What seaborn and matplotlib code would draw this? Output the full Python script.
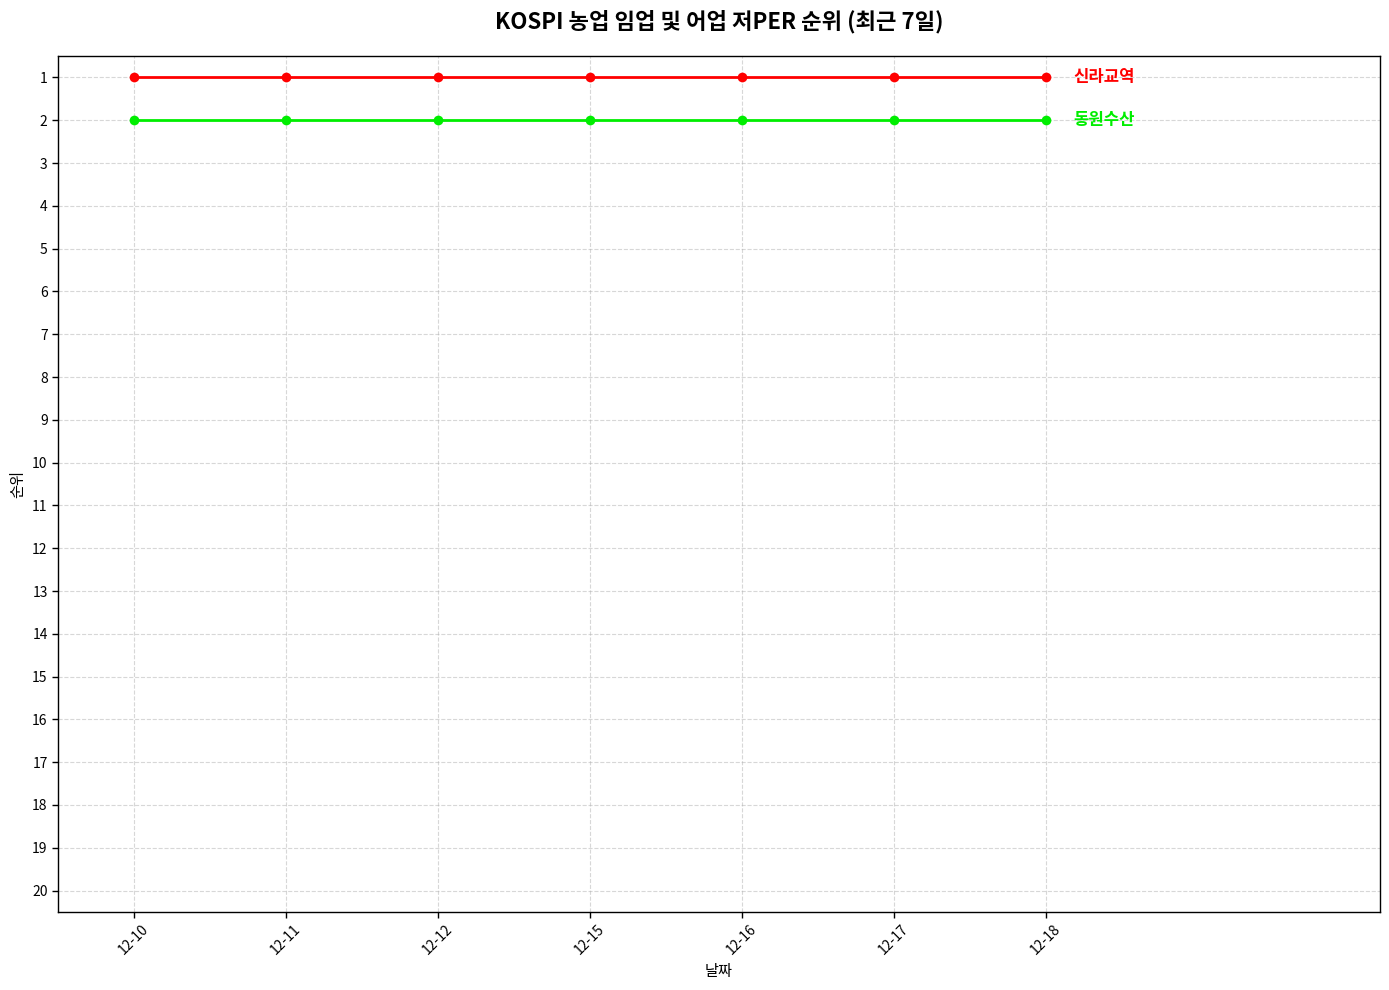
import matplotlib
matplotlib.use("Agg")
import matplotlib.pyplot as plt
import seaborn as sns
import pandas as pd

dates = ["12-10", "12-11", "12-12", "12-15", "12-16", "12-17", "12-18"]
stocks = ["신라교역", "동원수산"]
rank_silla = [1, 1, 1, 1, 1, 1, 1]
rank_dongwon = [2, 2, 2, 2, 2, 2, 2]
colors = ["#ff0000", "#00ee00"]

sns.set_style("white")
plt.rcParams['font.family'] = ['Noto Sans CJK KR', 'DejaVu Sans']
plt.rcParams['axes.unicode_minus'] = False
for k in ["text.color", "axes.labelcolor", "xtick.color", "ytick.color"]:
    plt.rcParams[k] = "black"

rows = []
for name, ranks in zip(stocks, [rank_silla, rank_dongwon]):
    for i, (d, r) in enumerate(zip(dates, ranks)):
        rows.append({"idx": i, "date": d, "rank": r, "stock": name})
df = pd.DataFrame(rows)

fig, ax = plt.subplots(figsize=(13.89, 9.9), dpi=100)
for name, col in zip(stocks, colors):
    sub = df[df["stock"] == name]
    sns.lineplot(data=sub, x="idx", y="rank", ax=ax, color=col, linewidth=2,
                 marker="o", markersize=7, markeredgewidth=0, legend=False)
    last = sub.iloc[-1]
    ax.text(last["idx"] + 0.18, last["rank"], name, color=col, fontsize=12,
            fontweight="bold", va="center", ha="left")

ax.set_xticks(range(len(dates)))
ax.set_xticklabels(dates, rotation=45)
ax.set_xlim(-0.5, len(dates) + 1.2)
ax.set_yticks(range(1, 21))
ax.set_ylim(20.5, 0.5)
ax.grid(True, linestyle="--", alpha=0.5, color="#b0b0b0")
ax.tick_params(axis="both", which="both", length=4, width=1, labelsize=10, left=True, bottom=True)
for s in ax.spines.values():
    s.set_color("black")
    s.set_linewidth(1)
ax.set_xlabel("날짜", fontsize=11)
ax.set_ylabel("순위", fontsize=11)
ax.set_title("KOSPI 농업 임업 및 어업 저PER 순위 (최근 7일)", fontsize=16,
             fontweight="bold", pad=20)
fig.subplots_adjust(left=0.0418, right=0.9935, top=0.9434, bottom=0.0788)
fig.savefig("out.png", dpi=100)
